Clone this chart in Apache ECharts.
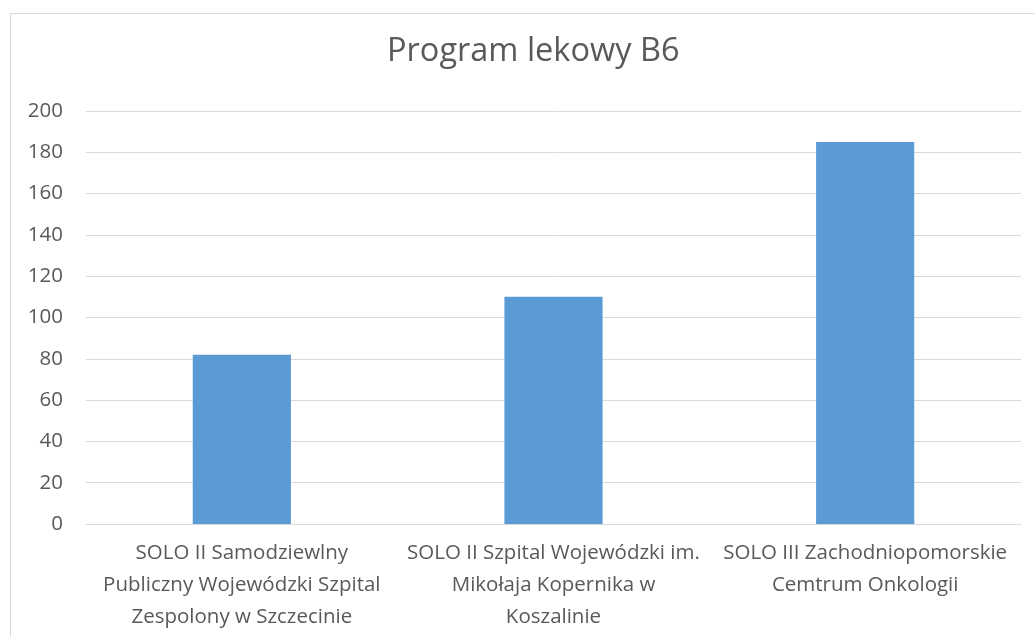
<!DOCTYPE html>
<html>
<head>
<meta charset="utf-8">
<script src="https://cdn.jsdelivr.net/npm/echarts@6/dist/echarts.min.js"></script>
<style>
    html, body { margin: 0; padding: 0; background: #fff; }
    #box { position: absolute; left: 10px; top: 13px; width: 1040px; height: 640px; border: 1px solid #d9d9d9; }
    #chart { width: 1035px; height: 637px; }
</style>
</head>
<body>
<div id="box"></div>
<div id="chart"></div>
<script>
    // 数据
    var categories = [
        'SOLO II Samodziewlny\nPubliczny Wojewódzki Szpital\nZespolony w Szczecinie',
        'SOLO II Szpital Wojewódzki im.\nMikołaja Kopernika w\nKoszalinie',
        'SOLO III Zachodniopomorskie\nCemtrum Onkologii'
    ];
    var values = [82, 110, 185];
    var yTicks = [0, 20, 40, 60, 80, 100, 120, 140, 160, 180, 200];

    var font = '"Open Sans", sans-serif';
    var myChart = echarts.init(document.getElementById('chart'));

    var option = {
        title: {
            text: 'Program lekowy B6',
            left: 382,
            top: 30,
            textStyle: { fontFamily: font, fontSize: 32.5, fontWeight: 'normal', color: '#595959' }
        },
        grid: { left: 86, right: 14, top: 111, bottom: 113 },
        xAxis: {
            type: 'category',
            data: categories,
            axisLine: { lineStyle: { color: '#d9d9d9', width: 1 } },
            axisTick: { show: false },
            axisLabel: {
                interval: 0,
                margin: 13,
                fontFamily: font,
                fontSize: 20.5,
                lineHeight: 32,
                color: '#595959'
            }
        },
        yAxis: {
            type: 'value',
            min: yTicks[0],
            max: yTicks[yTicks.length - 1],
            interval: 20,
            axisLine: { show: false },
            axisTick: { show: false },
            splitLine: { lineStyle: { color: '#d9d9d9', width: 1 } },
            axisLabel: {
                margin: 23,
                fontFamily: font,
                fontSize: 20.5,
                color: '#595959'
            }
        },
        series: [
            {
                type: 'bar',
                data: values,
                barCategoryGap: '68.5%',
                itemStyle: { color: '#5b9bd5' }
            }
        ]
    };

    myChart.setOption(option);
</script>
</body>
</html>
